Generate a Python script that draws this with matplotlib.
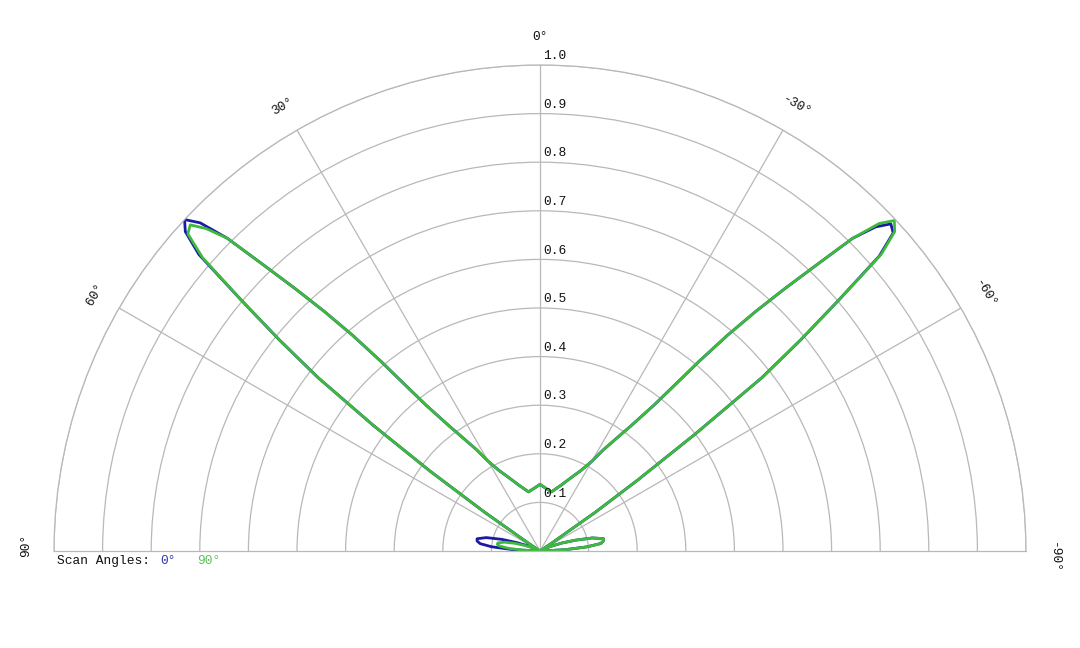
import numpy as np
import matplotlib
matplotlib.use("Agg")
import matplotlib.pyplot as plt

# ---------------- data ----------------
angles_deg = [-90, -87, -85, -83, -81, -79, -76, -73, -70, -66, -62, -58, -56, -55, -54,
              -53, -52, -51, -50, -49, -48, -47, -46, -45, -44, -43, -42, -41, -40, -39,
              -38, -36, -34, -32, -30, -27, -23, -18, -11, -5,
              0, 5, 11, 18, 23, 27, 30, 32, 34, 36, 38, 39, 40, 41, 42, 43, 44, 45, 46,
              47, 48, 49, 50, 51, 52, 53, 54, 55, 56, 58, 62, 66, 70, 73, 76, 79, 81, 83,
              85, 87, 90]

gain_scan0 = [0.004, 0.052, 0.096, 0.126, 0.132, 0.133, 0.111, 0.076, 0.048, 0.022, 0.008,
              0.003, 0.030, 0.140, 0.250, 0.400, 0.580, 0.690, 0.800, 0.925, 0.978, 0.987,
              0.960, 0.910, 0.816, 0.737, 0.663, 0.589, 0.510, 0.435, 0.381, 0.318, 0.277,
              0.245, 0.213, 0.186, 0.164, 0.143, 0.124, 0.130,
              0.137, 0.130, 0.124, 0.143, 0.164, 0.186, 0.213, 0.245, 0.277, 0.318, 0.381,
              0.435, 0.510, 0.589, 0.663, 0.737, 0.816, 0.910, 0.972, 1.000, 0.982, 0.930,
              0.800, 0.690, 0.580, 0.430, 0.280, 0.140, 0.030, 0.003, 0.008, 0.022, 0.050,
              0.082, 0.114, 0.132, 0.131, 0.124, 0.100, 0.058, 0.004]

gain_scan90 = [0.004, 0.052, 0.096, 0.126, 0.132, 0.133, 0.111, 0.076, 0.048, 0.022, 0.008,
               0.003, 0.030, 0.140, 0.250, 0.400, 0.580, 0.690, 0.800, 0.930, 0.982, 0.997,
               0.970, 0.910, 0.816, 0.737, 0.663, 0.589, 0.510, 0.435, 0.381, 0.318, 0.277,
               0.245, 0.213, 0.186, 0.164, 0.143, 0.124, 0.130,
               0.137, 0.130, 0.124, 0.143, 0.164, 0.186, 0.213, 0.245, 0.277, 0.318, 0.381,
               0.435, 0.510, 0.589, 0.663, 0.737, 0.816, 0.910, 0.955, 0.984, 0.975, 0.920,
               0.800, 0.690, 0.580, 0.430, 0.280, 0.140, 0.030, 0.003, 0.008, 0.015, 0.033,
               0.054, 0.075, 0.088, 0.089, 0.084, 0.066, 0.038, 0.003]

radial_ticks = [0.1, 0.2, 0.3, 0.4, 0.5, 0.6, 0.7, 0.8, 0.9, 1.0]
angle_ticks = [-90, -60, -30, 0, 30, 60, 90]
angle_labels = ["-90°", "-60°", "-30°", "0°", "30°", "60°", "90°"]
legend_title = "Scan Angles:"
legend_names = ["0°", "90°"]

# ---------------- style ----------------
FONT = "Liberation Mono"
FS = 9.3
BLUE = "#1a1aa6"
GREEN = "#3dba3d"
GRID = "#b8b8b8"
plt.rcParams["font.family"] = [FONT, "DejaVu Sans"]

W, H = 1080, 648
fig = plt.figure(figsize=(W / 100, H / 100), dpi=100)
# square box whose half-disc (radius 486 px) is centred at (540, 551 from top)
side = 972
cx, base_y = 540, H - 551          # centre in pixels from bottom-left
box_cy = base_y + side / 4          # half-disc vertically centred in the box
ax = fig.add_axes([(cx - side / 2) / W, (box_cy - side / 2) / H, side / W, side / H],
                  projection="polar")
ax.set_theta_zero_location("N")
ax.set_theta_direction(1)
ax.set_thetamin(-90)
ax.set_thetamax(90)
ax.set_rlim(0, 1.0)

ax.set_rticks(radial_ticks)
ax.set_yticklabels([])
ax.set_thetagrids([-60, -30, 0, 30, 60], labels=[""] * 5)
ax.grid(True, color=GRID, linewidth=0.9)
for sp in ax.spines.values():
    sp.set_color(GRID)
    sp.set_linewidth(0.9)
ax.tick_params(axis="both", length=0)

th = np.deg2rad(angles_deg)
ax.plot(th, gain_scan0, color=BLUE, lw=2.0, solid_joinstyle="round")
ax.plot(th, gain_scan90, color=GREEN, lw=2.0, solid_joinstyle="round")

# radial labels along 0° spoke
for r in radial_ticks:
    ax.annotate(f"{r:.1f}", xy=(0, r), xytext=(2, 2), textcoords="offset points",
                ha="left", va="bottom", fontsize=FS, color="#111111",
                annotation_clip=False)

# angle labels, rotated tangentially
offsets = {-90: (0, -5), 90: (0, 4)}
for a, lab in zip(angle_ticks, angle_labels):
    dx, dy = offsets.get(a, (0, 0))
    ax.annotate(lab, xy=(np.deg2rad(a), 1.057), xytext=(dx, dy),
                textcoords="offset points", ha="center", va="center",
                rotation=a, rotation_mode="anchor", fontsize=FS,
                color="#111111", annotation_clip=False)

# legend text
y_leg = (H - 561) / H
fig.text(57 / W, y_leg, legend_title, fontsize=FS, color="#111111", va="center", ha="left")
fig.text(160 / W, y_leg, legend_names[0], fontsize=FS, color="#3535b0", va="center", ha="left")
fig.text(197 / W, y_leg, legend_names[1], fontsize=FS, color="#5cc05c", va="center", ha="left")

fig.savefig("out.png", dpi=100)
